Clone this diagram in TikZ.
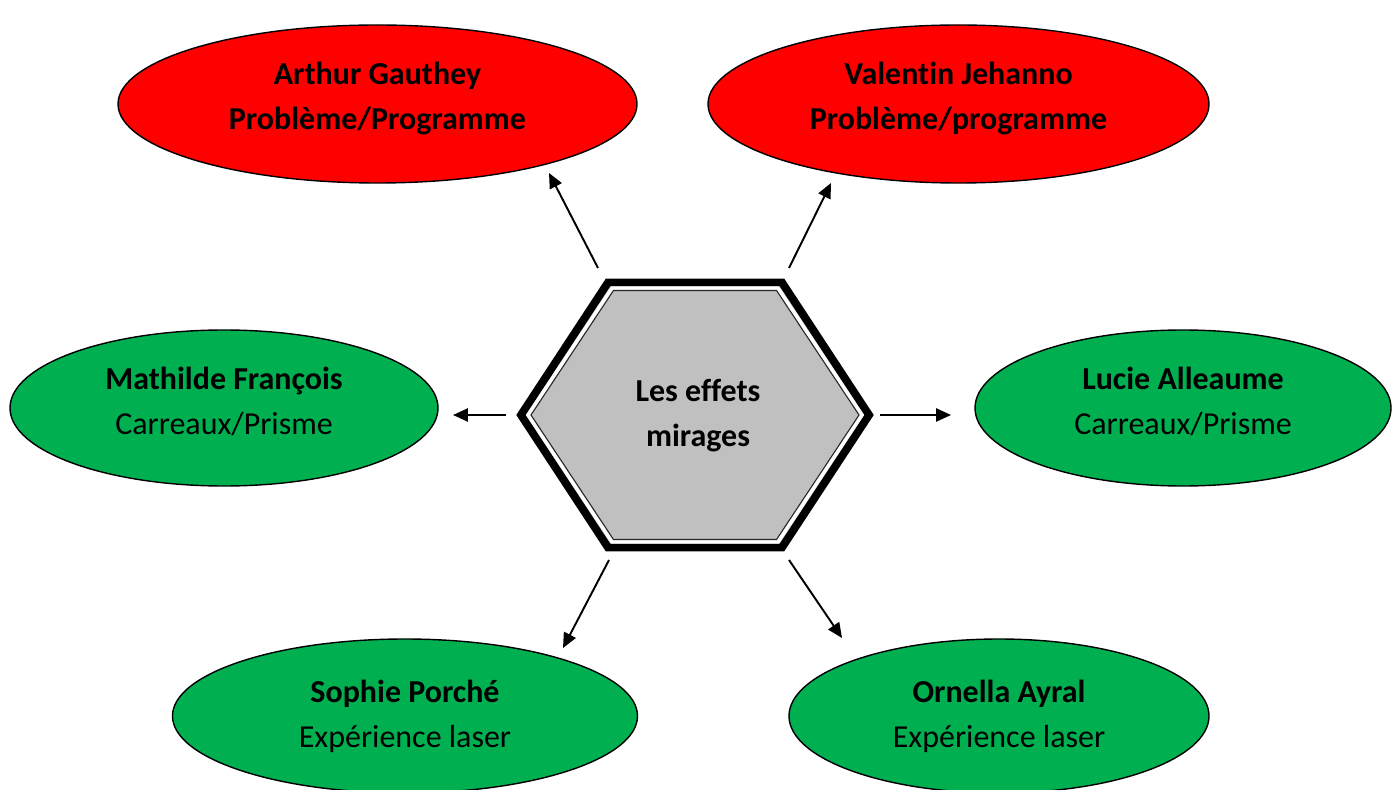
\documentclass[tikz,border=0pt]{standalone}
\usepackage{fontspec}
\setmainfont{Carlito}[Ligatures=CommonOff]
\usepackage{tikz}
\usetikzlibrary{arrows.meta,shapes.geometric,calc}
\definecolor{wordred}{RGB}{255,0,0}
\definecolor{wordgreen}{RGB}{0,176,80}
\definecolor{hexgray}{RGB}{192,192,192}

\begin{document}
\begin{tikzpicture}[>={Triangle[length=8.5pt,width=7.5pt]},
  font=\fontsize{18.2}{25.5}\selectfont,
  who/.style={draw,ellipse,inner sep=0pt,line width=0.8pt,align=center},
  redwho/.style={who,fill=wordred},
  greenwho/.style={who,fill=wordgreen},
  arr/.style={->,line width=1.1pt}]
  \useasboundingbox (0,0) rectangle (27.98,-15.8);
  % central hexagon
  \coordinate (hc) at (13.9,-8.3);
  \begin{scope}[shift={(hc)}]
    \draw[line width=4.5pt,fill=hexgray,line join=miter]
      (-3.48,0) -- (-1.74,2.65) -- (1.74,2.65) -- (3.48,0) -- (1.74,-2.65) -- (-1.74,-2.65) -- cycle;
    \draw[white,line width=2pt]
      (-3.34,0) -- (-1.66,2.535) -- (1.66,2.535) -- (3.34,0) -- (1.66,-2.535) -- (-1.66,-2.535) -- cycle;
    \draw[black!85,line width=0.6pt]
      (-3.28,0) -- (-1.63,2.49) -- (1.63,2.49) -- (3.28,0) -- (1.63,-2.49) -- (-1.63,-2.49) -- cycle;
  \end{scope}
  \node[align=center,font=\fontsize{18.2}{25.5}\selectfont\bfseries] (hex) at ($(hc)+(0.06,-0.02)$) {Les effets\\mirages};
  % people
  \node[redwho,minimum width=10.38cm,minimum height=3.16cm,text depth=0.34cm] (arthur) at (7.55,-2.08)
    {\textbf{Arthur Gauthey}\\\textbf{Problème/Programme}};
  \node[redwho,minimum width=10.02cm,minimum height=3.16cm,text depth=0.34cm] (valentin) at (19.17,-2.08)
    {\textbf{Valentin Jehanno}\\\textbf{Problème/programme}};
  \node[greenwho,minimum width=8.56cm,minimum height=3.12cm,text depth=0.29cm] (mathilde) at (4.48,-8.16)
    {\textbf{Mathilde François}\\Carreaux/Prisme};
  \node[greenwho,minimum width=8.32cm,minimum height=3.12cm,text depth=0.29cm] (lucie) at (23.66,-8.16)
    {\textbf{Lucie Alleaume}\\Carreaux/Prisme};
  \node[greenwho,minimum width=9.3cm,minimum height=3.08cm] (sophie) at (8.1,-14.32)
    {\textbf{Sophie Porché}\\Expérience laser};
  \node[greenwho,minimum width=8.4cm,minimum height=3.08cm] (ornella) at (19.98,-14.32)
    {\textbf{Ornella Ayral}\\Expérience laser};
  % arrow ends
  \coordinate (s1) at (11.96,-5.36);  \coordinate (t1) at (10.98,-3.46);
  \coordinate (s2) at (15.78,-5.36);  \coordinate (t2) at (16.62,-3.66);
  \coordinate (s3) at (10.12,-8.3);   \coordinate (t3) at (9.06,-8.3);
  \coordinate (s4) at (17.6,-8.3);    \coordinate (t4) at (19.02,-8.3);
  \coordinate (s5) at (12.18,-11.2);  \coordinate (t5) at (11.26,-12.96);
  \coordinate (s6) at (15.78,-11.2);  \coordinate (t6) at (16.84,-12.76);
  \foreach \i in {1,...,6}
    \draw[arr] (s\i) -- (t\i);
\end{tikzpicture}
\end{document}
